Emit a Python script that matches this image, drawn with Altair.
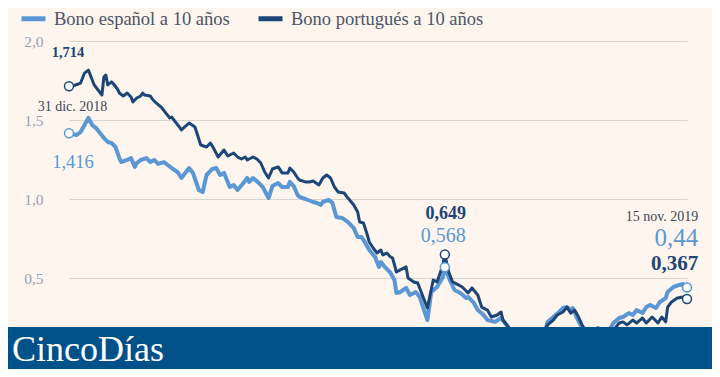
import altair as alt
import pandas as pd

ES_NAME = "Bono español a 10 años"
PT_NAME = "Bono portugués a 10 años"

es_dates = ["2018-12-31", "2019-01-04", "2019-01-06", "2019-01-08", "2019-01-10", "2019-01-12", "2019-01-14",
            "2019-01-16", "2019-01-18", "2019-01-20", "2019-01-22", "2019-01-24", "2019-01-26", "2019-01-27",
            "2019-01-30", "2019-02-01", "2019-02-03", "2019-02-04", "2019-02-06", "2019-02-09", "2019-02-11",
            "2019-02-13", "2019-02-15", "2019-02-18", "2019-02-20", "2019-02-22", "2019-02-25", "2019-02-27",
            "2019-03-03", "2019-03-05", "2019-03-08", "2019-03-10", "2019-03-12", "2019-03-15", "2019-03-17",
            "2019-03-19", "2019-03-21", "2019-03-24", "2019-03-26", "2019-03-28", "2019-03-31", "2019-04-02",
            "2019-04-03", "2019-04-05", "2019-04-08", "2019-04-10", "2019-04-13", "2019-04-15", "2019-04-18",
            "2019-04-20", "2019-04-23", "2019-04-24", "2019-04-26", "2019-04-28", "2019-04-29", "2019-05-02",
            "2019-05-06", "2019-05-08", "2019-05-10", "2019-05-11", "2019-05-14", "2019-05-16", "2019-05-18",
            "2019-05-21", "2019-05-24", "2019-05-27", "2019-05-29", "2019-05-31", "2019-06-02", "2019-06-04",
            "2019-06-07", "2019-06-09", "2019-06-10", "2019-06-12", "2019-06-15", "2019-06-17", "2019-06-18",
            "2019-06-20", "2019-06-23", "2019-06-25", "2019-06-28", "2019-06-30", "2019-07-04", "2019-07-06",
            "2019-07-09", "2019-07-12", "2019-07-13", "2019-07-16", "2019-07-18", "2019-07-21", "2019-07-24",
            "2019-07-25", "2019-07-28", "2019-07-30", "2019-08-02", "2019-08-04", "2019-08-08", "2019-08-11",
            "2019-08-13", "2019-08-15", "2019-08-18", "2019-08-21", "2019-08-24", "2019-08-27", "2019-08-30",
            "2019-09-02", "2019-09-04", "2019-09-07", "2019-09-10", "2019-09-12", "2019-09-14", "2019-09-16",
            "2019-09-17", "2019-09-19", "2019-09-21", "2019-09-24", "2019-09-27", "2019-09-30", "2019-10-03",
            "2019-10-06", "2019-10-08", "2019-10-11", "2019-10-13", "2019-10-16", "2019-10-18", "2019-10-20",
            "2019-10-23", "2019-10-25", "2019-10-27", "2019-10-30", "2019-11-01", "2019-11-04", "2019-11-05",
            "2019-11-08", "2019-11-11", "2019-11-13", "2019-11-15"]
es_values = [1.416, 1.405, 1.424, 1.468, 1.513, 1.468, 1.449,
             1.418, 1.386, 1.361, 1.354, 1.329, 1.259, 1.234,
             1.247, 1.259, 1.203, 1.228, 1.247, 1.259, 1.234,
             1.247, 1.222, 1.234, 1.215, 1.196, 1.171, 1.133,
             1.196, 1.165, 1.057, 1.044, 1.152, 1.190, 1.196,
             1.152, 1.165, 1.076, 1.089, 1.057, 1.101, 1.133,
             1.108, 1.133, 1.101, 1.076, 1.006, 1.082, 1.101,
             1.076, 1.076, 1.108, 1.082, 1.025, 1.013, 1.000,
             0.981, 0.975, 0.962, 0.981, 0.994, 0.975, 0.886,
             0.880, 0.854, 0.816, 0.759, 0.759, 0.722, 0.677,
             0.633, 0.570, 0.601, 0.570, 0.532, 0.487, 0.405,
             0.411, 0.437, 0.392, 0.411, 0.380, 0.234, 0.411,
             0.443, 0.506, 0.568, 0.475, 0.424, 0.405, 0.373,
             0.380, 0.342, 0.297, 0.266, 0.234, 0.222, 0.247,
             0.215, 0.184, 0.120, 0.095, 0.076, 0.082, 0.070,
             0.120, 0.222, 0.253, 0.285, 0.310, 0.316, 0.297,
             0.310, 0.253, 0.203, 0.171, 0.158, 0.184, 0.158,
             0.171, 0.215, 0.247, 0.253, 0.278, 0.266, 0.297,
             0.278, 0.316, 0.329, 0.310, 0.348, 0.373, 0.411,
             0.443, 0.456, 0.462, 0.440]

pt_dates = ["2018-12-31", "2019-01-03", "2019-01-06", "2019-01-08", "2019-01-10", "2019-01-11", "2019-01-13",
            "2019-01-15", "2019-01-17", "2019-01-18", "2019-01-19", "2019-01-20", "2019-01-22", "2019-01-23",
            "2019-01-25", "2019-01-26", "2019-01-28", "2019-01-30", "2019-02-01", "2019-02-02", "2019-02-04",
            "2019-02-06", "2019-02-07", "2019-02-08", "2019-02-11", "2019-02-12", "2019-02-14", "2019-02-17",
            "2019-02-19", "2019-02-21", "2019-02-22", "2019-02-24", "2019-02-26", "2019-02-27", "2019-03-03",
            "2019-03-06", "2019-03-09", "2019-03-12", "2019-03-14", "2019-03-15", "2019-03-18", "2019-03-21",
            "2019-03-23", "2019-03-26", "2019-03-28", "2019-03-30", "2019-04-01", "2019-04-02", "2019-04-05",
            "2019-04-07", "2019-04-09", "2019-04-11", "2019-04-13", "2019-04-15", "2019-04-18", "2019-04-20",
            "2019-04-23", "2019-04-24", "2019-04-26", "2019-04-28", "2019-04-29", "2019-05-02", "2019-05-04",
            "2019-05-06", "2019-05-09", "2019-05-11", "2019-05-13", "2019-05-15", "2019-05-17", "2019-05-19",
            "2019-05-22", "2019-05-24", "2019-05-27", "2019-05-29", "2019-05-30", "2019-06-01", "2019-06-03",
            "2019-06-04", "2019-06-06", "2019-06-08", "2019-06-10", "2019-06-11", "2019-06-13", "2019-06-15",
            "2019-06-16", "2019-06-18", "2019-06-20", "2019-06-23", "2019-06-24", "2019-06-27", "2019-06-29",
            "2019-07-04", "2019-07-07", "2019-07-09", "2019-07-12", "2019-07-13", "2019-07-15", "2019-07-17",
            "2019-07-20", "2019-07-22", "2019-07-25", "2019-07-27", "2019-07-30", "2019-08-01", "2019-08-04",
            "2019-08-06", "2019-08-09", "2019-08-11", "2019-08-12", "2019-08-14", "2019-08-17", "2019-08-20",
            "2019-08-23", "2019-08-26", "2019-08-29", "2019-09-01", "2019-09-04", "2019-09-07", "2019-09-09",
            "2019-09-12", "2019-09-14", "2019-09-16", "2019-09-18", "2019-09-20", "2019-09-23", "2019-09-26",
            "2019-09-29", "2019-10-02", "2019-10-05", "2019-10-09", "2019-10-11", "2019-10-13", "2019-10-15",
            "2019-10-18", "2019-10-20", "2019-10-23", "2019-10-25", "2019-10-28", "2019-10-31", "2019-11-02",
            "2019-11-04", "2019-11-05", "2019-11-07", "2019-11-10", "2019-11-13", "2019-11-15"]
pt_values = [1.714, 1.720, 1.734, 1.797, 1.816, 1.785, 1.722,
             1.690, 1.658, 1.772, 1.785, 1.722, 1.741, 1.728,
             1.696, 1.671, 1.652, 1.671, 1.646, 1.614, 1.639,
             1.652, 1.671, 1.658, 1.652, 1.633, 1.608, 1.576,
             1.544, 1.513, 1.519, 1.487, 1.456, 1.437, 1.481,
             1.456, 1.342, 1.329, 1.354, 1.335, 1.266, 1.310,
             1.272, 1.291, 1.266, 1.253, 1.266, 1.247, 1.266,
             1.253, 1.228, 1.171, 1.133, 1.190, 1.203, 1.165,
             1.165, 1.196, 1.171, 1.133, 1.120, 1.108, 1.108,
             1.114, 1.089, 1.133, 1.152, 1.133, 1.076, 1.044,
             1.038, 1.006, 0.962, 0.918, 0.854, 0.848, 0.772,
             0.728, 0.690, 0.658, 0.677, 0.646, 0.658, 0.633,
             0.627, 0.538, 0.551, 0.570, 0.500, 0.475, 0.468,
             0.310, 0.487, 0.475, 0.582, 0.649, 0.538, 0.475,
             0.456, 0.443, 0.405, 0.437, 0.392, 0.316, 0.297,
             0.253, 0.266, 0.285, 0.234, 0.203, 0.152, 0.120,
             0.095, 0.108, 0.095, 0.139, 0.203, 0.234, 0.266,
             0.285, 0.316, 0.278, 0.297, 0.253, 0.171, 0.158,
             0.146, 0.171, 0.152, 0.184, 0.215, 0.222, 0.203,
             0.234, 0.215, 0.247, 0.215, 0.253, 0.215, 0.253,
             0.222, 0.316, 0.348, 0.373, 0.380, 0.367]

# highlighted points: (series, date, value, label)
mark_series = [PT_NAME, ES_NAME, PT_NAME, ES_NAME, PT_NAME, ES_NAME]
mark_dates = ["2018-12-31", "2018-12-31", "2019-07-13", "2019-07-13", "2019-11-15", "2019-11-15"]
mark_values = [1.714, 1.416, 0.649, 0.568, 0.367, 0.44]
mark_labels = ["1,714", "1,416", "0,649", "0,568", "0,367", "0,44"]
date_labels = ["31 dic. 2018", "15 nov. 2019"]
y_ticks = [0.5, 1.0, 1.5, 2.0]
brand = "CincoDías"

LIGHT = "#5b97d5"
DARK = "#1c4677"
GREY = "#3e4758"
FONT = "Liberation Serif"

df = pd.concat([
    pd.DataFrame({"date": es_dates, "value": es_values, "serie": ES_NAME}),
    pd.DataFrame({"date": pt_dates, "value": pt_values, "serie": PT_NAME}),
])
marks_df = pd.DataFrame({"serie": mark_series, "date": mark_dates,
                         "value": mark_values, "label": mark_labels})

x_enc = alt.X("date:T", axis=None,
              scale=alt.Scale(type="utc", nice=False,
                              domain=[alt.DateTime(year=2018, month=12, date=31, utc=True),
                                      alt.DateTime(year=2019, month=11, date=15, utc=True)],
                              range=[13, 631]))
y_enc = alt.Y("value:Q", title=None,
              scale=alt.Scale(domain=[0, 2], nice=False),
              axis=alt.Axis(values=y_ticks, grid=True, domain=False, ticks=False,
                            labelExpr="replace(format(datum.value, '.1f'), '.', ',')",
                            labelFont=FONT, labelFontSize=15.5, labelColor="#97a3b8",
                            labelPadding=13, gridColor="#d8d3ce", gridWidth=1))
color_scale = alt.Scale(domain=[ES_NAME, PT_NAME], range=[LIGHT, DARK])
color_enc = alt.Color("serie:N", scale=color_scale,
                      legend=alt.Legend(title=None, orient="none", legendX=-37, legendY=-37,
                                        direction="horizontal", symbolType="stroke",
                                        symbolStrokeWidth=5, symbolSize=576,
                                        labelFont=FONT, labelFontSize=18.5, labelColor="#4b5568",
                                        labelLimit=400, labelOffset=6, columnPadding=18,
                                        padding=0))

base = alt.Chart(df)
line_es = base.transform_filter(alt.datum.serie == ES_NAME).mark_line(
    strokeWidth=4, strokeJoin="round").encode(x=x_enc, y=y_enc, color=color_enc)
line_pt = base.transform_filter(alt.datum.serie == PT_NAME).mark_line(
    strokeWidth=3, strokeJoin="round").encode(x=x_enc, y=y_enc, color=color_enc)

mbase = alt.Chart(marks_df)
start_pt = mbase.transform_filter((alt.datum.serie == PT_NAME) & (alt.datum.date == "2018-12-31"))
start_es = mbase.transform_filter((alt.datum.serie == ES_NAME) & (alt.datum.date == "2018-12-31"))

leader_pt = start_pt.mark_rule(color=GREY, strokeWidth=1, yOffset=-24, y2Offset=-5).encode(
    x=x_enc, y=y_enc, y2="value:Q")
leader_es = start_es.mark_rule(color=LIGHT, strokeWidth=1, yOffset=5, y2Offset=15).encode(
    x=x_enc, y=y_enc, y2="value:Q")

points = mbase.mark_point(shape="circle", size=80, strokeWidth=1.5, opacity=1).encode(
    x=x_enc, y=y_enc,
    stroke=alt.Stroke("serie:N", scale=alt.Scale(domain=[ES_NAME, PT_NAME], range=[LIGHT, DARK]),
                      legend=None),
    fill=alt.value("#ffffff"))


def label(i, dx, dy, size, color, bold=False, align="center"):
    return alt.Chart(marks_df.iloc[[i]]).mark_text(
        dx=dx, dy=dy, fontSize=size, font=FONT, fontWeight="bold" if bold else "normal",
        color=color, align=align, baseline="middle").encode(x=x_enc, y=y_enc, text="label:N")


def date_label(i, text, dx, dy, align):
    return alt.Chart(marks_df.iloc[[i]].assign(label=text)).mark_text(
        dx=dx, dy=dy, fontSize=14, font=FONT, color=GREY, align=align,
        baseline="middle").encode(x=x_enc, y=y_enc, text="label:N")


labels = [
    label(0, -1, -33, 14.5, DARK, bold=True),
    label(1, 4, 29, 18.5, LIGHT),
    label(2, 1, -40.5, 18, DARK, bold=True),
    label(3, -1.5, -31, 20, LIGHT),
    label(4, 11.3, -35, 21, DARK, bold=True, align="right"),
    label(5, 11.3, -49.5, 25, LIGHT, align="right"),
    date_label(1, date_labels[0], 3.5, -26, "center"),
    date_label(5, date_labels[1], 11.3, -70.5, "right"),
]

brand_df = pd.DataFrame({"brand": [brand]})
banner = alt.Chart(brand_df).mark_rect(color="#00508a").encode(
    x=alt.value(-48), x2=alt.value(656), y=alt.value(286), y2=alt.value(330))
brand_text = alt.Chart(brand_df).mark_text(
    align="left", baseline="alphabetic", font=FONT, fontSize=36, color="#ffffff").encode(
    x=alt.value(-44), y=alt.value(320), text="brand:N")

chart = alt.layer(
    line_es, line_pt, leader_pt, leader_es, points, *labels, banner, brand_text
).properties(
    width=644, height=316,
    autosize=alt.AutoSizeParams(type="none"),
    padding={"left": 48, "top": 33, "right": 12, "bottom": 12},
    background="#fdf5ee",
).configure_view(strokeWidth=0).configure_text(font=FONT)

chart.save("out.html", embed_options={"renderer": "svg", "actions": False})
